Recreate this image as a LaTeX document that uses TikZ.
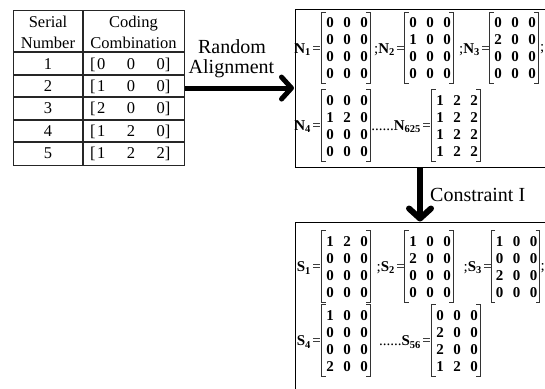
\documentclass[tikz,border=0pt]{standalone}
\usepackage{fontspec}
\setmainfont{Liberation Serif}
\usetikzlibrary{matrix,arrows.meta}
\newcommand\mbrk[1]{%
 \draw[brk] ([xshift=4.5pt,yshift=2pt]#1.north west) -- ([xshift=0.5pt,yshift=2pt]#1.north west) -- ([xshift=0.5pt,yshift=-1pt]#1.south west) -- ([xshift=4.5pt,yshift=-1pt]#1.south west);
 \draw[brk] ([xshift=-6.5pt,yshift=2pt]#1.north east) -- ([xshift=-2.5pt,yshift=2pt]#1.north east) -- ([xshift=-2.5pt,yshift=-1pt]#1.south east) -- ([xshift=-6.5pt,yshift=-1pt]#1.south east);}
\newcommand\cvec[3]{[\hspace{1.5pt}#1\hspace{21.5pt}#2\hspace{21.5pt}#3]}
\tikzset{
 x=1pt,y=-1pt,
 tline/.style={line width=1.1pt, draw=black!85},
 box/.style={draw, line width=1.4pt, rectangle, inner sep=0, anchor=north west},
 ttxt/.style={font=\fontsize{16.5}{16.5}\selectfont, inner sep=0, anchor=base},
 lbl/.style={font=\fontsize{20}{20}\selectfont, inner sep=0, anchor=base},
 bigarrow/.style={line width=5pt, -{Straight Barb[length=10pt,width=22pt,round]}},
 mat/.style={matrix of nodes, inner sep=0, column sep=0, row sep=0, nodes={mcell}},
 mcell/.style={minimum width=17pt, minimum height=17pt, inner sep=0, anchor=center, font=\fontsize{15}{15}\selectfont\bfseries},
 mlab/.style={anchor=east, inner sep=0, font=\fontsize{15}{15}\selectfont},
 msemi/.style={anchor=west, inner sep=0, font=\fontsize{15}{15}\selectfont},
 brk/.style={line width=0.8pt, draw=black!80},
}
\begin{document}
\begin{tikzpicture}
\useasboundingbox (0,0) rectangle (545,388);
\clip (0,0) rectangle (545,388);
\fill[white] (0,0) rectangle (545,388);
% ---- table ----
\node[tline, draw, minimum width=171pt, minimum height=155pt, anchor=north west, inner sep=0] (tbl) at (13,10) {};
\draw[tline] (83,10) -- (83,165);
\foreach \yy in {52,75,97,120,142} \draw[tline] (13,\yy) -- (184,\yy);
\node[ttxt] (h1a) at (48,27) {Serial};
\node[ttxt] (h1b) at (48,48) {Number};
\node[ttxt] (h2a) at (133.5,27) {Coding};
\node[ttxt] (h2b) at (133.5,48) {Combination};
\node[ttxt] (r1) at (48,69) {1};
\node[ttxt] (r2) at (48,91) {2};
\node[ttxt] (r3) at (48,113.5) {3};
\node[ttxt] (r4) at (48,136) {4};
\node[ttxt] (r5) at (48,158.5) {5};
\node[ttxt, anchor=base west] (c1) at (90,69) {\cvec{0}{0}{0}};
\node[ttxt, anchor=base west] (c2) at (90,91) {\cvec{1}{0}{0}};
\node[ttxt, anchor=base west] (c3) at (90,113.5) {\cvec{2}{0}{0}};
\node[ttxt, anchor=base west] (c4) at (90,136) {\cvec{1}{2}{0}};
\node[ttxt, anchor=base west] (c5) at (90,158.5) {\cvec{1}{2}{2}};
% ---- boxes ----
\node[box, minimum width=270pt, minimum height=158pt] (boxN) at (295,9) {};
\node[box, minimum width=270pt, minimum height=180pt] (boxS) at (295,222) {};
% ---- arrows ----
\draw[bigarrow, shorten >=1pt] (tbl.east) -- (tbl.east -| boxN.west);
\node[lbl] (rnd) at (232,53) {Random};
\node[lbl] (aln) at (231.5,73) {Alignment};
\coordinate (vx) at (420,0);
\draw[bigarrow, line width=6pt, shorten >=0.5pt] (boxN.south -| vx) -- (boxS.north -| vx);
\node[lbl, anchor=base west] (cst) at (430,201) {Constraint I};
% ---- N matrices ----
\matrix[mat] (N1) at (347,48.5) {0&0&0\\0&0&0\\0&0&0\\0&0&0\\};
\matrix[mat] (N2) at (430,48.5) {0&0&0\\1&0&0\\0&0&0\\0&0&0\\};
\matrix[mat] (N3) at (515,48.5) {0&0&0\\2&0&0\\0&0&0\\0&0&0\\};
\matrix[mat] (N4) at (347,126) {0&0&0\\1&2&0\\0&0&0\\0&0&0\\};
\matrix[mat] (N5) at (457,126) {1&2&2\\1&2&2\\1&2&2\\1&2&2\\};
\foreach \m in {N1,N2,N3,N4,N5} {\mbrk{\m}}
\node[mlab] (N1l) at (321,49.5) {\textbf{N}\textsubscript{\textbf{1}}\hspace{1.5pt}=};
\node[mlab] (N2l) at (405,49.5) {;\textbf{N}\textsubscript{\textbf{2}}\hspace{1.5pt}=};
\node[mlab] (N3l) at (490,49.5) {;\textbf{N}\textsubscript{\textbf{3}}\hspace{1.5pt}=};
\node[msemi] (N3s) at (540,49.5) {;};
\node[mlab] (N4l) at (321,127) {\textbf{N}\textsubscript{\textbf{4}}\hspace{1.5pt}=};
\node[mlab] (N5l) at (431,127) {......\textbf{N}\textsubscript{\textbf{625}}\hspace{1.5pt}=};
% ---- S matrices ----
\matrix[mat] (S1) at (347,267) {1&2&0\\0&0&0\\0&0&0\\0&0&0\\};
\matrix[mat] (S2) at (430,267) {1&0&0\\2&0&0\\0&0&0\\0&0&0\\};
\matrix[mat] (S3) at (516.5,267) {1&0&0\\0&0&0\\2&0&0\\0&0&0\\};
\matrix[mat] (S4) at (347,341) {1&0&0\\0&0&0\\0&0&0\\2&0&0\\};
\matrix[mat] (S5) at (457,341) {0&0&0\\2&0&0\\2&0&0\\1&2&0\\};
\foreach \m in {S1,S2,S3,S4,S5} {\mbrk{\m}}
\node[mlab] (S1l) at (321,268) {\textbf{S}\textsubscript{\textbf{1}}\hspace{1.5pt}=};
\node[mlab] (S2l) at (405,268) {;\textbf{S}\textsubscript{\textbf{2}}\hspace{1.5pt}=};
\node[mlab] (S3l) at (492,268) {;\textbf{S}\textsubscript{\textbf{3}}\hspace{1.5pt}=};
\node[msemi] (S3s) at (540.5,268) {;};
\node[mlab] (S4l) at (321,342) {\textbf{S}\textsubscript{\textbf{4}}\hspace{1.5pt}=};
\node[mlab] (S5l) at (431,342) {......\textbf{S}\textsubscript{\textbf{56}}\hspace{1.5pt}=};
\end{tikzpicture}
\end{document}
